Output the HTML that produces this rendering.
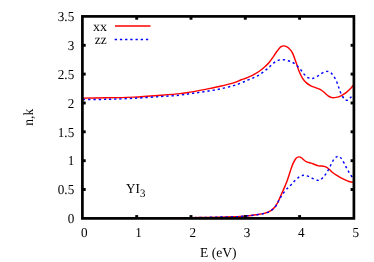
<!DOCTYPE html>
<html><head><meta charset="utf-8"><title>plot</title>
<style>
html,body{margin:0;padding:0;background:#fff;}
body{width:374px;height:262px;overflow:hidden;}
svg{display:block;will-change:transform;}
text{font-family:"Liberation Serif",serif;font-size:13.7px;fill:#000;text-rendering:geometricPrecision;}
</style></head><body>
<svg width="374" height="262" viewBox="0 0 374 262">
<g fill="none" stroke-width="1.45" stroke-linejoin="round">
<path d="M82.3,98.1C86.4,98.1 98.2,98.0 106.7,97.8C115.2,97.7 124.6,97.5 133.5,97.1C142.4,96.7 152.4,95.9 160.2,95.3C167.9,94.7 174.5,94.2 180.0,93.6C185.5,93.0 189.0,92.3 193.4,91.6C197.8,90.8 202.2,90.0 206.7,89.1C211.1,88.2 215.6,87.3 220.1,86.3C224.6,85.3 230.0,84.0 233.5,82.9C237.0,81.8 239.0,80.6 241.1,79.8C243.2,79.0 244.3,78.8 245.9,78.2C247.5,77.6 249.1,76.8 250.7,76.1C252.3,75.3 253.9,74.6 255.5,73.7C257.1,72.8 258.7,71.7 260.3,70.5C261.9,69.3 263.6,67.8 265.1,66.5C266.6,65.2 267.8,64.1 269.1,62.5C270.5,60.9 272.0,58.6 273.2,56.9C274.4,55.1 275.3,53.5 276.4,52.0C277.5,50.5 278.7,48.9 279.6,47.9C280.5,46.9 281.2,46.6 282.0,46.3C282.8,46.0 283.1,45.7 284.2,45.9C285.2,46.1 286.9,46.5 288.3,47.7C289.7,48.9 291.1,50.3 292.4,52.9C293.7,55.5 295.2,60.0 296.3,63.1C297.4,66.2 298.2,69.1 299.2,71.6C300.2,74.1 301.3,76.3 302.4,78.1C303.5,79.8 304.3,80.8 305.6,82.1C306.9,83.3 308.8,84.7 310.4,85.6C312.0,86.5 313.7,87.0 315.3,87.6C316.9,88.2 318.6,88.6 320.1,89.4C321.6,90.2 322.8,91.2 324.1,92.3C325.4,93.4 326.8,94.9 328.1,95.8C329.4,96.7 330.8,97.3 332.1,97.6C333.4,97.9 334.6,97.7 336.1,97.4C337.6,97.1 339.3,96.6 340.9,95.8C342.5,95.0 344.2,94.0 345.8,92.8C347.4,91.6 349.3,89.8 350.6,88.5C351.9,87.2 353.3,85.4 353.8,84.8" stroke="#ff0000"/>
<path d="M82.3,99.5C86.4,99.5 98.2,99.5 106.7,99.3C115.2,99.1 124.6,98.8 133.5,98.3C142.4,97.8 152.4,97.1 160.2,96.6C167.9,96.1 174.5,95.7 180.0,95.1C185.5,94.5 189.0,93.8 193.4,93.2C197.8,92.6 202.2,92.0 206.7,91.3C211.1,90.6 215.6,90.0 220.1,89.0C224.6,88.0 230.0,86.6 233.5,85.6C237.0,84.6 238.9,83.8 241.0,83.0C243.1,82.2 244.3,81.6 245.9,80.9C247.5,80.2 249.2,79.6 250.7,79.0C252.2,78.4 253.3,77.9 254.7,77.2C256.1,76.5 257.6,75.8 259.0,75.0C260.4,74.2 261.8,73.1 263.2,72.1C264.6,71.1 265.9,70.0 267.2,68.9C268.5,67.8 269.8,66.5 271.1,65.4C272.4,64.3 273.5,63.1 274.8,62.2C276.1,61.3 277.3,60.5 278.8,60.1C280.3,59.7 282.1,59.6 283.6,59.7C285.2,59.8 286.7,60.3 288.1,60.7C289.5,61.1 290.8,61.5 292.1,62.2C293.4,62.9 294.7,63.6 296.1,64.8C297.5,66.0 299.1,68.0 300.5,69.6C301.9,71.2 303.1,73.1 304.3,74.4C305.6,75.8 306.6,77.0 308.0,77.7C309.4,78.4 310.9,78.8 312.5,78.5C314.1,78.2 316.1,77.0 317.7,76.1C319.3,75.2 320.5,74.0 322.0,73.2C323.5,72.4 325.1,71.5 326.5,71.4C327.9,71.3 329.3,71.6 330.6,72.6C331.9,73.6 333.2,75.6 334.3,77.2C335.4,78.8 336.2,80.7 336.9,82.3C337.6,83.9 338.1,85.3 338.6,86.9C339.2,88.5 339.5,90.1 340.2,91.7C340.9,93.3 341.8,95.2 342.6,96.5C343.4,97.8 344.2,98.9 345.0,99.5C345.8,100.1 346.7,100.6 347.6,100.3C348.5,100.0 349.6,98.7 350.6,97.6C351.6,96.5 353.3,94.2 353.8,93.5" stroke="#0000ff" stroke-dasharray="2.3 2.9" stroke-dashoffset="-0.75"/>
<path d="M82.3,218.3C95.2,218.3 143.7,218.3 160.0,218.2C176.3,218.1 173.3,218.0 180.0,217.9C186.7,217.8 193.3,217.6 200.0,217.5C206.7,217.4 214.4,217.2 220.0,217.1C225.6,217.0 230.1,216.9 233.4,216.8C236.7,216.7 237.6,216.7 240.0,216.5C242.4,216.3 245.3,216.0 248.0,215.7C250.7,215.4 253.4,215.2 256.1,214.8C258.8,214.4 261.7,214.1 264.1,213.4C266.5,212.7 268.6,212.0 270.5,210.8C272.4,209.7 274.0,208.2 275.3,206.5C276.6,204.8 277.4,203.1 278.5,200.9C279.6,198.8 280.6,196.0 281.7,193.6C282.8,191.2 283.9,188.7 284.9,186.4C285.8,184.1 286.5,182.6 287.4,180.0C288.3,177.4 289.6,173.3 290.5,170.6C291.4,167.9 292.0,165.9 292.9,163.9C293.8,161.9 294.8,159.9 295.7,158.7C296.6,157.5 297.7,157.1 298.6,156.9C299.5,156.7 300.5,157.2 301.3,157.7C302.1,158.1 302.6,158.9 303.5,159.6C304.4,160.3 305.8,161.4 306.7,161.9C307.6,162.4 308.2,162.3 308.9,162.5C309.6,162.7 310.1,162.8 311.0,163.1C311.9,163.4 312.9,163.8 314.2,164.3C315.5,164.8 317.1,165.6 318.6,165.9C320.1,166.2 322.1,166.0 323.4,166.2C324.7,166.4 325.4,166.6 326.3,167.1C327.2,167.6 328.0,168.2 329.1,169.2C330.2,170.1 331.5,171.7 332.9,172.8C334.3,173.9 336.1,174.9 337.7,175.9C339.3,176.9 340.9,177.9 342.5,178.7C344.1,179.5 345.9,180.3 347.3,180.9C348.7,181.5 350.0,181.8 351.1,182.0C352.2,182.2 353.4,182.2 353.8,182.2" stroke="#ff0000"/>
<path d="M82.3,218.3C95.2,218.3 143.7,218.3 160.0,218.2C176.3,218.1 173.3,218.0 180.0,217.9C186.7,217.8 193.3,217.6 200.0,217.5C206.7,217.4 214.4,217.2 220.0,217.1C225.6,217.0 230.1,216.9 233.4,216.8C236.7,216.7 237.6,216.7 240.0,216.6C242.4,216.4 245.3,216.1 248.0,215.8C250.7,215.5 253.4,215.3 256.1,214.9C258.8,214.5 261.7,214.2 264.1,213.5C266.5,212.8 268.6,212.1 270.5,211.0C272.4,209.9 274.0,208.3 275.3,206.7C276.6,205.1 277.4,203.1 278.3,201.5C279.2,199.9 279.8,198.6 280.9,196.9C282.0,195.2 283.7,192.7 284.9,191.2C286.1,189.7 287.1,188.8 288.2,187.7C289.3,186.6 290.3,185.6 291.4,184.4C292.5,183.2 293.6,181.9 294.8,180.7C296.0,179.5 297.4,178.2 298.6,177.3C299.8,176.5 301.0,175.9 302.0,175.6C303.0,175.3 303.3,175.1 304.5,175.3C305.7,175.5 307.7,176.1 309.1,176.6C310.5,177.1 311.6,178.0 313.0,178.6C314.4,179.2 316.1,180.1 317.4,180.3C318.6,180.5 319.6,180.3 320.5,179.8C321.4,179.3 322.2,178.2 323.0,177.3C323.8,176.4 324.6,175.7 325.5,174.4C326.4,173.1 327.5,171.3 328.5,169.6C329.5,167.8 330.4,165.7 331.3,163.9C332.2,162.2 333.1,160.3 334.0,159.1C334.9,157.9 335.7,157.2 336.5,156.8C337.3,156.4 337.9,156.3 338.6,156.5C339.4,156.7 340.1,157.0 341.0,158.1C341.9,159.2 343.0,161.2 344.0,162.9C345.0,164.7 345.9,166.8 346.9,168.6C347.8,170.3 348.5,171.6 349.7,173.4C350.9,175.2 353.1,178.5 353.8,179.5" stroke="#0000ff" stroke-dasharray="2.3 2.9" stroke-dashoffset="-2.7"/>
<line x1="115" y1="26" x2="150.5" y2="26" stroke="#ff0000"/>
<line x1="114.7" y1="39.5" x2="148.3" y2="39.5" stroke="#0000ff" stroke-dasharray="2.3 2.9"/>
</g>
<g stroke="#000" stroke-width="2.7" fill="none">
<rect x="82.4" y="16.4" width="271.5" height="202.0"/>
<g stroke-width="2.9"><line x1="136.7" y1="218.4" x2="136.7" y2="215.1"/><line x1="136.7" y1="16.4" x2="136.7" y2="19.7"/><line x1="191.0" y1="218.4" x2="191.0" y2="215.1"/><line x1="191.0" y1="16.4" x2="191.0" y2="19.7"/><line x1="245.3" y1="218.4" x2="245.3" y2="215.1"/><line x1="245.3" y1="16.4" x2="245.3" y2="19.7"/><line x1="299.6" y1="218.4" x2="299.6" y2="215.1"/><line x1="299.6" y1="16.4" x2="299.6" y2="19.7"/><line x1="82.4" y1="189.5" x2="85.7" y2="189.5"/><line x1="353.9" y1="189.5" x2="350.6" y2="189.5"/><line x1="82.4" y1="160.7" x2="85.7" y2="160.7"/><line x1="353.9" y1="160.7" x2="350.6" y2="160.7"/><line x1="82.4" y1="131.8" x2="85.7" y2="131.8"/><line x1="353.9" y1="131.8" x2="350.6" y2="131.8"/><line x1="82.4" y1="103.0" x2="85.7" y2="103.0"/><line x1="353.9" y1="103.0" x2="350.6" y2="103.0"/><line x1="82.4" y1="74.1" x2="85.7" y2="74.1"/><line x1="353.9" y1="74.1" x2="350.6" y2="74.1"/><line x1="82.4" y1="45.3" x2="85.7" y2="45.3"/><line x1="353.9" y1="45.3" x2="350.6" y2="45.3"/></g>
</g>
<g>
<text transform="translate(84.2,237.3) scale(0.96,1)" text-anchor="middle">0</text><text transform="translate(138.5,237.3) scale(0.96,1)" text-anchor="middle">1</text><text transform="translate(192.8,237.3) scale(0.96,1)" text-anchor="middle">2</text><text transform="translate(247.1,237.3) scale(0.96,1)" text-anchor="middle">3</text><text transform="translate(301.4,237.3) scale(0.96,1)" text-anchor="middle">4</text><text transform="translate(355.7,237.3) scale(0.96,1)" text-anchor="middle">5</text>
<text transform="translate(74.2,223.1) scale(0.96,1)" text-anchor="end">0</text><text transform="translate(74.2,194.2) scale(0.96,1)" text-anchor="end">0.5</text><text transform="translate(74.2,165.4) scale(0.96,1)" text-anchor="end">1</text><text transform="translate(74.2,136.5) scale(0.96,1)" text-anchor="end">1.5</text><text transform="translate(74.2,107.7) scale(0.96,1)" text-anchor="end">2</text><text transform="translate(74.2,78.8) scale(0.96,1)" text-anchor="end">2.5</text><text transform="translate(74.2,50.0) scale(0.96,1)" text-anchor="end">3</text><text transform="translate(74.2,21.1) scale(0.96,1)" text-anchor="end">3.5</text>
<text transform="translate(107.0,30.6) scale(1.03,1)" text-anchor="end">xx</text>
<text transform="translate(106.7,43.9) scale(0.98,1)" text-anchor="end">zz</text>
<text transform="translate(218.3,256.8) scale(0.99,1)" text-anchor="middle">E (eV)</text>
<text transform="translate(126.0,192.8) scale(0.96,1)" text-anchor="start">YI<tspan font-size="11.3" dy="3.8">3</tspan></text>
<text transform="translate(32.5,117.2) rotate(-90) scale(0.99,1.03)" text-anchor="middle">n,k</text>
</g>
</svg>
</body></html>
